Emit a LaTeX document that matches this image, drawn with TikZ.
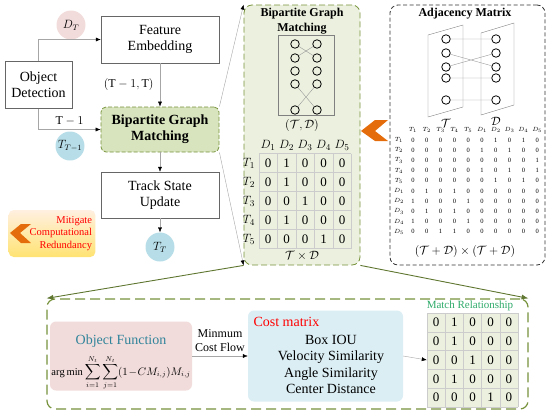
\documentclass[tikz,border=0pt]{standalone}
\usepackage{amsmath}
\usepackage{fontspec}
\setmainfont{Liberation Serif}
\usetikzlibrary{arrows.meta, positioning}

\definecolor{pinkc}{HTML}{F2DCDB}
\definecolor{cblue}{HTML}{B7DEE8}
\definecolor{costblue}{HTML}{DBEEF4}
\definecolor{pgreen}{HTML}{77933C}
\definecolor{gfill}{HTML}{EBF1DE}
\definecolor{bgmfill}{HTML}{D7E4BD}
\definecolor{tealc}{HTML}{31849B}
\definecolor{matchc}{HTML}{2EAA6A}
\definecolor{orchev}{HTML}{E46C0A}
\newcommand{\fsz}[2]{\fontsize{#1}{#2}\selectfont}

\begin{document}
\begin{tikzpicture}[x=1pt, y=-1pt,
    box/.style={draw=gray!80!black, fill=white, align=center, font=\fsz{14}{16},
        minimum width=118, minimum height=47, inner sep=0},
    bgm/.style={fill=bgmfill, draw=pgreen, dash pattern=on 4pt off 2pt, line width=0.8pt,
        rounded corners=5, font=\bfseries\fsz{14}{16}, minimum height=45},
    state/.style={circle, minimum size=29, inner sep=0, font=\fsz{12}{14}},
    garrow/.style={draw=gray!70, -{Latex[length=5pt,width=4pt,color=black]}},
    darrow/.style={draw=pgreen!80!black, line width=0.9pt, -{Latex[length=7pt,width=5pt]}},
    gpanel/.style={draw=pgreen, fill=gfill, dash pattern=on 6pt off 3pt, rounded corners=8, line width=0.8pt},
    kpanel/.style={draw=black!80, dash pattern=on 4pt off 2.5pt, rounded corners=8, line width=0.8pt},
    vtx/.style={circle, draw, line width=0.8pt, minimum size=8.5, inner sep=0},
    edge/.style={draw=gray!80, line width=0.4pt},
    grid/.style={draw=gray!40, line width=0.5pt},
    mitig/.style={rounded corners=5, top color=orange!12, bottom color=yellow!60!orange!55,
        minimum width=86, minimum height=47, align=right, text=red, font=\fsz{10.5}{12.5}, text width=80}]
    \useasboundingbox (0,0) rectangle (550,418);

    % left flow
    \node[box, minimum width=67] (det) at (38.5,85) {Object\\Detection};
    \node[box] (feat) at (160,39.5) {Feature\\Embedding};
    \node[box, bgm] (bgm) at (160,129.5) {Bipartite Graph\\Matching};
    \node[box, minimum height=46] (track) at (160,195) {Track State\\Update};
    \node[state, fill=pinkc] (dt) at (71,25) {$D_T$};
    \node[state, fill=cblue] (tprev) at (70,146) {$T_{T-1}$};
    \node[state, fill=cblue] (tt) at (160,247) {$T_T$};

    \draw[garrow] (det.north) |- (feat.west);
    \draw[garrow] (det.south) |- (bgm.west) node[pos=0.75, above, font=\fsz{12}{14}] (tlab) {$\mathrm{T}-1$};
    \draw[garrow] (feat) -- (bgm) node[midway, left=3pt, font=\fsz{12}{14}] (ttlab) {$(\mathrm{T}-1,\mathrm{T})$};
    \draw[garrow] (bgm) -- (track);
    \draw[garrow] (track) -- (tt);

    % mitigate box
    \node[mitig] (mit) at (52,233.5) {Mitigate\\Computational\\Redundancy};
    \fill[orchev] (10,233) -- (21,224) -- (31,224) -- (20,233) -- (31,243) -- (21,243) -- cycle;

    % bipartite panel
    \node[gpanel, minimum width=116, minimum height=260] (bp) at (302,135) {};
    \draw[garrow] (bgm.north east) -- (bp.north west);
    \draw[garrow] (bgm.south east) -- (bp.south west);
    \node[font=\bfseries\fsz{12}{15}, align=center] (bptitle) at (302,21.5) {Bipartite Graph\\Matching};
    \node[draw=gray, minimum width=56, minimum height=80, inner sep=0] (gbox) at (306,75) {};
    \foreach \y [count=\i] in {44,58,71,84,110} {
        \node[vtx] (bl\i) at (295,\y) {};
        \node[vtx] (br\i) at (317,\y) {};
    }
    \draw[edge] (bl1) -- (br2) (bl2) -- (br1) (bl4) -- (br5) (br4) -- (bl5);
    \node[font=\fsz{13}{15}] (tdlab) at (302,125) {$(\mathcal{T},\mathcal{D})$};

    \foreach \k in {0,...,5} {
        \draw[grid] ({258.75+18.5*\k},153.5) -- ++(0,95);
        \draw[grid] (258.75,{153.5+19*\k}) -- ++(92.5,0);
    }
    \foreach \j in {1,...,5}
        \node[font=\fsz{13}{15}] (dh\j) at ({268+18.5*(\j-1)},145) {$D_{\j}$};
    \foreach \vals [count=\r] in {{0,1,0,0,0},{0,1,0,0,0},{0,0,1,0,0},{0,1,0,0,0},{0,0,0,1,0}} {
        \node[font=\fsz{13}{15}] (th\r) at (249,{163+19*(\r-1)}) {$T_{\r}$};
        \foreach \v [count=\c] in \vals
            \node[font=\fsz{13}{15}] (bm\r\c) at ({268+18.5*(\c-1)},{163+19*(\r-1)}) {\v};
    }
    \node[font=\fsz{12}{14}] (txd) at (302,256) {$\mathcal{T}\times\mathcal{D}$};

    % adjacency panel
    \node[kpanel, minimum width=155, minimum height=260] (ap) at (467.5,135) {};
    \node[font=\bfseries\fsz{12}{15}] (aptitle) at (465,14) {Adjacency Matrix};
    \draw[gray] (428,35) -- (463,25) -- (463,107) -- (428,117) -- cycle;
    \draw[gray] (481,33) -- (514,23) -- (514,105) -- (481,115) -- cycle;
    \foreach \y [count=\i] in {39,53,67,78,100} {
        \node[vtx, fill=white] (al\i) at (446,\y) {};
        \node[vtx, fill=white] (ar\i) at (496,\y) {};
    }
    \draw[edge] (al1) -- (ar1) (al2) -- (ar3) (al3) -- (ar2) (al4) -- (ar4) (al5) -- (ar5);
    \node[font=\fsz{12}{14}] (atlab) at (446,123) {$\mathcal{T}$};
    \node[font=\fsz{12}{14}] (adlab) at (496,121) {$\mathcal{D}$};

    \foreach \h [count=\c] in {T_1,T_2,T_3,T_4,T_5,D_1,D_2,D_3,D_4,D_5}
        \node[font=\fsz{6.5}{7}] (ah\c) at ({413+13.8*(\c-1)},130) {$\h$};
    \foreach \lab/\vals [count=\r] in {T_1/{0,0,0,0,0,0,1,0,1,0},T_2/{0,0,0,0,0,1,0,1,0,0},
            T_3/{0,0,0,0,0,0,0,0,0,1},T_4/{0,0,0,0,0,1,0,1,0,1},T_5/{0,0,0,0,0,0,1,0,1,0},
            D_1/{0,1,0,1,0,0,0,0,0,0},D_2/{1,0,0,0,1,0,0,0,0,0},D_3/{0,1,0,1,0,0,0,0,0,0},
            D_4/{1,0,0,0,1,0,0,0,0,0},D_5/{0,0,1,1,0,0,0,0,0,0}} {
        \node[font=\fsz{6.5}{7}] (arow\r) at (399,{140+10.2*(\r-1)}) {$\lab$};
        \foreach \v [count=\c] in \vals
            \node[font=\fsz{6.5}{7}] (am\r\c) at ({413+13.8*(\c-1)},{140+10.2*(\r-1)}) {\v};
    }
    \node[font=\fsz{12}{14}] (tdd) at (465,251) {$(\mathcal{T}+\mathcal{D})\times(\mathcal{T}+\mathcal{D})$};

    % orange chevron between panels
    \fill[orchev] (361,131) -- (375,120) -- (388,120) -- (375,131) -- (388,141) -- (375,141) -- cycle;

    % bottom box
    \node[gpanel, fill=white, dash pattern=on 10pt off 5pt, line width=1.2pt,
        minimum width=481, minimum height=110] (bot) at (287.5,354) {};
    \draw[darrow] (bp.south west) -- (bot.north west);
    \draw[darrow] (bp.south east) -- (bot.north east);

    \node[fill=pinkc, rounded corners=6, minimum width=142, minimum height=69] (objf) at (121,356) {};
    \node[text=tealc, font=\fsz{14}{16}] (objt) at (121,341) {Object Function};
    \node[font=\fsz{10.5}{12}, inner sep=1pt] (objeq) at (121,373)
        {$\displaystyle\arg\min\sum_{i=1}^{N_t}\sum_{j=1}^{N_t}(1\!-\!CM_{i,j})M_{i,j}$};

    \node[fill=costblue, rounded corners=6, minimum width=155, minimum height=91] (cost) at (325.5,356) {};
    \node[text=red, font=\fsz{14}{16}, anchor=west] (costt) at (250,322) {Cost matrix};
    \node[align=center, font=\fsz{14}{16.3}] (costl) at (331,364.5)
        {Box IOU\\Velocity Similarity\\Angle Similarity\\Center Distance};
    \draw[garrow] (objf.east) -- (cost.west)
        node[midway, above=1pt, align=center, font=\fsz{12}{14}] (mcf) {Minmum\\Cost Flow};

    \node[text=matchc, font=\fsz{11}{13}] (mrt) at (470,306) {Match Relationship};
    \node[fill=gfill, minimum width=91, minimum height=94, inner sep=0] (mbg) at (472.5,360) {};
    \foreach \k in {0,...,5} {
        \draw[grid] ({427+18.2*\k},313) -- ++(0,94);
        \draw[grid] (427,{313+18.8*\k}) -- ++(91,0);
    }
    \foreach \vals [count=\r] in {{0,1,0,0,0},{0,1,0,0,0},{0,0,1,0,0},{0,1,0,0,0},{0,0,0,1,0}} {
        \foreach \v [count=\c] in \vals
            \node[font=\fsz{13}{15}] (mm\r\c) at ({436.1+18.2*(\c-1)},{322.4+18.8*(\r-1)}) {\v};
    }
    \draw[garrow] (cost.east) -- (mbg.west);
\end{tikzpicture}
\end{document}
